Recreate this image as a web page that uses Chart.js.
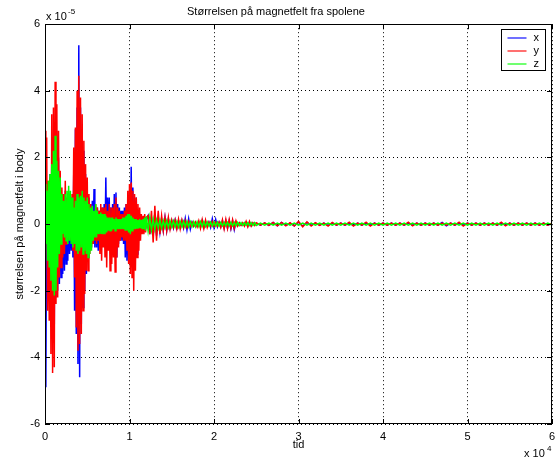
<!DOCTYPE html>
<html>
<head>
<meta charset="utf-8">
<script src="https://cdn.jsdelivr.net/npm/chart.js@4.4.0/dist/chart.umd.min.js"></script>
<style>
html, body { margin: 0; padding: 0; background: #fff; }
</style>
</head>
<body>
<canvas id="plot" width="556" height="462"></canvas>
<script>
// tid i enheter av 10^4, verdier i enheter av 10^-5
var tid = [
  0,0.01,0.02,0.03,0.04,0.05,0.06,0.07,0.08,0.09,
  0.1,0.11,0.12,0.13,0.14,0.15,0.16,0.17,0.18,0.19,
  0.2,0.21,0.22,0.23,0.24,0.25,0.26,0.27,0.28,0.29,
  0.3,0.31,0.32,0.33,0.34,0.35,0.36,0.37,0.38,0.39,
  0.4,0.41,0.42,0.43,0.44,0.45,0.46,0.47,0.48,0.49,
  0.5,0.51,0.52,0.53,0.54,0.55,0.56,0.57,0.58,0.59,
  0.6,0.61,0.62,0.63,0.64,0.65,0.66,0.67,0.68,0.69,
  0.7,0.71,0.72,0.73,0.74,0.75,0.76,0.77,0.78,0.79,
  0.8,0.81,0.82,0.83,0.84,0.85,0.86,0.87,0.88,0.89,
  0.9,0.91,0.92,0.93,0.94,0.95,0.96,0.97,0.98,0.99,
  1,1.01,1.02,1.03,1.04,1.05,1.06,1.07,1.08,1.09,
  1.1,1.11,1.12,1.13,1.14,1.15,1.16,1.17,1.18,1.19,
  1.2,
  1.22,1.24,1.26,1.28,1.3,1.32,1.34,1.36,1.38,1.4,
  1.42,1.44,1.46,1.48,1.5,1.52,1.54,1.56,1.58,1.6,
  1.62,1.64,1.66,1.68,1.7,1.72,1.74,1.76,1.78,1.8,
  1.82,1.84,1.86,1.88,1.9,1.92,1.94,1.96,1.98,2,
  2.02,2.04,2.06,2.08,2.1,2.12,2.14,2.16,2.18,2.2,
  2.22,2.24,2.26,2.28,2.3,2.32,2.34,2.36,2.38,2.4,
  2.42,2.44,2.46,2.48,2.5,
  2.55,2.6,2.65,2.7,2.75,2.8,2.85,2.9,2.95,3,
  3.05,3.1,3.15,3.2,3.25,3.3,3.35,3.4,3.45,3.5,
  3.55,3.6,3.65,3.7,3.75,3.8,3.85,3.9,3.95,4,
  4.05,4.1,4.15,4.2,4.25,4.3,4.35,4.4,4.45,4.5,
  4.55,4.6,4.65,4.7,4.75,4.8,4.85,4.9,4.95,5,
  5.05,5.1,5.15,5.2,5.25,5.3,5.35,5.4,5.45,5.5,
  5.55,5.6,5.65,5.7,5.75,5.8,5.85,5.9,5.95,6
];

var feltX = [
  0.3,-4.9,1.0,-1.8,1.2,-2.2,1.5,-2.5,2.0,-3.0,
  2.5,-3.0,2.5,-2.2,2.5,-2.0,2.0,-1.8,1.3,-1.6,
  0.9,-1.5,0.8,-1.4,1.0,-1.2,0.7,-1.1,0.8,-0.9,
  0.6,-0.8,0.8,-1.0,1.5,-2.6,2.85,-3.3,3.5,-4.2,
  5.37,-4.6,3.5,-3.0,2.6,-2.5,2.2,-2.0,1.5,-1.5,
  1.0,-1.0,0.8,-0.8,0.6,-0.7,0.7,-0.6,1.05,-0.7,
  0.5,-0.7,0.5,-0.8,0.4,-0.7,0.5,-0.6,0.5,-0.6,
  0.6,-0.6,1.4,-0.7,0.8,-0.6,0.8,-0.7,0.5,-0.6,
  0.6,-0.8,0.9,-0.9,0.95,-1.0,0.6,-0.6,0.5,-0.5,
  0.4,-0.5,0.4,-0.6,0.5,-1.0,0.6,-1.1,0.8,-1.15,
  1.0,-1.2,1.72,-1.0,1.1,-0.9,0.7,-0.5,0.8,-0.9,
  0.4,-0.5,0.2,-0.2,0.15,-0.15,0.15,-0.2,0.2,-0.15,
  0.15,
  0.25,-0.3,0.2,-0.35,0.3,-0.35,0.2,-0.25,0.15,-0.2,
  0.2,-0.2,0.15,-0.12,0.1,-0.12,0.12,-0.12,0.1,-0.1,
  0.1,-0.12,0.17,-0.17,0.16,-0.15,0.06,-0.06,0.05,-0.06,
  0.06,-0.08,0.1,-0.1,0.08,-0.06,0.06,-0.1,0.16,-0.1,
  0.14,-0.08,0.06,-0.08,0.1,-0.12,0.1,-0.12,0.1,-0.14,
  0.1,-0.17,0.06,-0.05,0.03,-0.03,0.03,-0.04,0.05,-0.06,
  0.06,-0.05,0.03,-0.03,0.03,
  -0.03,0.03,-0.04,0.05,-0.05,0.05,-0.04,0.03,-0.05,0.06,
  -0.06,0.05,-0.04,0.03,-0.03,0.03,-0.04,0.03,-0.03,0.03,
  -0.03,0.03,-0.04,0.03,-0.03,0.03,-0.03,0.03,-0.03,0.03,
  -0.03,0.03,-0.03,0.03,-0.03,0.03,-0.03,0.03,-0.03,0.03,
  -0.03,0.03,-0.03,0.05,-0.05,0.03,-0.03,0.03,-0.03,0.03,
  -0.03,0.03,-0.03,0.03,-0.03,0.03,-0.03,0.03,-0.03,0.03,
  -0.03,0.03,-0.03,0.03,-0.03,0.03,-0.03,0.03,-0.03,0.03
];

var feltY = [
  2.8,-0.6,2.6,-2.6,1.3,-2.9,1.4,-3.9,3.3,-4.47,
  3.5,-4.3,4.27,-2.4,3.6,-2.2,2.8,-1.6,1.6,-1.3,
  1.1,-1.0,0.9,-0.9,1.3,-0.6,0.8,-0.5,0.6,-0.4,
  0.5,-0.5,0.9,-0.8,2.3,-1.6,2.9,-3.1,4.0,-3.8,
  4.45,-3.6,3.8,-3.3,3.3,-2.6,2.5,-2.1,1.8,-1.4,
  1.4,-1.4,0.9,-0.9,0.6,-0.7,0.4,-0.6,0.3,-0.5,
  0.6,-0.6,0.5,-0.5,0.4,-0.9,0.6,-1.1,0.5,-0.7,
  0.5,-1.0,0.6,-1.3,0.4,-0.8,0.6,-1.4,0.5,-1.2,
  0.5,-1.0,0.6,-1.44,0.8,-1.0,0.5,-0.7,0.4,-0.5,
  0.3,-0.4,0.3,-0.5,0.4,-0.5,0.6,-0.8,1.0,-1.2,
  1.2,-1.5,1.25,-1.6,1.0,-2.0,0.9,-1.4,0.8,-1.0,
  0.6,-0.8,0.5,-0.5,0.3,-0.3,0.25,-0.3,0.3,-0.25,
  0.2,
  0.25,-0.3,0.4,-0.55,0.55,-0.5,0.4,-0.3,0.25,-0.2,
  0.2,-0.2,0.2,-0.15,0.12,-0.1,0.12,-0.14,0.15,-0.14,
  0.12,-0.1,0.1,-0.1,0.08,-0.06,0.06,-0.06,0.06,-0.08,
  0.1,-0.13,0.13,-0.13,0.12,-0.1,0.06,-0.06,0.08,-0.06,
  0.06,-0.06,0.06,-0.1,0.13,-0.14,0.14,-0.13,0.14,-0.12,
  0.13,-0.12,0.1,-0.06,0.04,-0.04,0.04,-0.06,0.08,-0.08,
  0.08,-0.06,0.04,-0.04,0.04,
  -0.03,0.04,-0.04,0.05,-0.05,0.05,-0.05,0.04,-0.06,0.08,
  -0.08,0.07,-0.06,0.04,-0.04,0.03,-0.06,0.05,-0.03,0.03,
  -0.03,0.06,-0.06,0.03,-0.03,0.06,-0.06,0.03,-0.03,0.03,
  -0.03,0.03,-0.03,0.03,-0.03,0.06,-0.05,0.03,-0.03,0.03,
  -0.03,0.03,-0.03,0.03,-0.03,0.03,-0.03,0.06,-0.06,0.03,
  -0.03,0.03,-0.03,0.03,-0.03,0.03,-0.03,0.06,-0.05,0.03,
  -0.03,0.03,-0.03,0.03,-0.03,0.03,-0.03,0.03,-0.03,0.03
];

var feltZ = [
  1.2,-0.6,1.0,-1.1,1.3,-1.3,1.5,-1.7,1.8,-2.0,
  2.2,-2.14,2.65,-2.0,1.9,-1.3,1.6,-0.9,1.4,-0.6,
  0.9,-0.3,0.7,-0.4,0.9,-0.5,1.0,-0.6,1.15,-0.5,
  1.0,-0.6,0.8,-0.7,0.5,-0.6,0.7,-0.8,0.9,-0.9,
  0.8,-0.8,0.85,-0.7,1.0,-0.9,0.8,-0.8,0.7,-0.9,
  0.8,-1.0,0.6,-0.9,0.5,-0.8,0.55,-0.5,0.4,-0.4,
  0.6,-0.4,0.4,-0.3,0.3,-0.3,0.35,-0.3,0.3,-0.3,
  0.3,-0.3,0.25,-0.25,0.2,-0.2,0.2,-0.2,0.2,-0.2,
  0.2,-0.15,0.15,-0.2,0.2,-0.15,0.15,-0.15,0.15,-0.15,
  0.15,-0.15,0.2,-0.15,0.2,-0.2,0.25,-0.2,0.3,-0.25,
  0.3,-0.3,0.25,-0.2,0.2,-0.15,0.15,-0.15,0.15,-0.12,
  0.12,-0.12,0.15,-0.12,0.12,-0.15,0.15,-0.15,0.2,-0.2,
  0.23,
  -0.2,0.2,-0.18,0.15,-0.15,0.12,-0.12,0.12,-0.12,0.1,
  -0.1,0.1,-0.1,0.09,-0.09,0.09,-0.09,0.08,-0.09,0.08,
  -0.08,0.08,-0.08,0.08,-0.08,0.07,-0.07,0.07,-0.08,0.07,
  -0.07,0.07,-0.07,0.07,-0.07,0.06,-0.06,0.06,-0.06,0.06,
  -0.06,0.06,-0.06,0.05,-0.05,0.05,-0.05,0.05,-0.05,0.05,
  -0.05,0.05,-0.05,0.05,-0.04,0.04,-0.04,0.04,-0.04,0.04,
  -0.04,0.04,-0.04,0.04,-0.04,
  0.03,-0.03,0.03,-0.03,0.03,-0.03,0.03,-0.03,0.03,-0.03,
  0.03,-0.03,0.03,-0.03,0.03,-0.03,0.03,-0.03,0.03,-0.03,
  0.03,-0.03,0.03,-0.03,0.03,-0.03,0.03,-0.03,0.03,-0.03,
  0.03,-0.03,0.03,-0.03,0.03,-0.03,0.03,-0.03,0.03,-0.03,
  0.03,-0.03,0.03,-0.03,0.03,-0.03,0.03,-0.03,0.03,-0.03,
  0.03,-0.03,0.03,-0.03,0.03,-0.03,0.03,-0.03,0.03,-0.03,
  0.03,-0.03,0.03,-0.03,0.03,-0.03,0.03,-0.03,0.03,-0.03
];

var seriesNavn = ['x', 'y', 'z'];
var seriesFarge = ['#0000ff', '#ff0000', '#00ff00'];
var xTicks = [0, 1, 2, 3, 4, 5, 6];
var yTicks = [-6, -4, -2, 0, 2, 4, 6];

var skrift = 'Liberation Sans, Arial, sans-serif';

function punkter(verdier) {
  return tid.map(function(t, i) { return { x: t, y: verdier[i] }; });
}

function serie(i, verdier) {
  return {
    label: seriesNavn[i],
    data: punkter(verdier),
    borderColor: seriesFarge[i],
    backgroundColor: seriesFarge[i],
    borderWidth: 1.5,
    pointRadius: 0,
    tension: 0,
    order: 3 - i   // z oppå y oppå x, som i originalen
  };
}

// ramme, innvendige tick-streker, eksponenter og legende (MATLAB-stil)
var matlabRamme = {
  id: 'matlabRamme',
  afterDraw: function(chart) {
    var ctx = chart.ctx;
    var a = chart.chartArea;
    var sx = chart.scales.x, sy = chart.scales.y;
    ctx.save();
    ctx.strokeStyle = '#000';
    ctx.lineWidth = 1;
    ctx.strokeRect(Math.round(a.left) + 0.5, Math.round(a.top) + 0.5,
      Math.round(a.right - a.left) - 1, Math.round(a.bottom - a.top) - 1);

    ctx.beginPath();
    xTicks.forEach(function(v) {
      var px = Math.round(sx.getPixelForValue(v)) + 0.5;
      ctx.moveTo(px, a.bottom); ctx.lineTo(px, a.bottom - 5);
      ctx.moveTo(px, a.top); ctx.lineTo(px, a.top + 5);
    });
    yTicks.forEach(function(v) {
      var py = Math.round(sy.getPixelForValue(v)) + 0.5;
      ctx.moveTo(a.left, py); ctx.lineTo(a.left + 5, py);
      ctx.moveTo(a.right, py); ctx.lineTo(a.right - 5, py);
    });
    ctx.stroke();

    // eksponenter
    ctx.fillStyle = '#000';
    ctx.textBaseline = 'alphabetic';
    ctx.textAlign = 'left';
    ctx.font = '11px ' + skrift;
    ctx.fillText('x 10', a.left + 1, a.top - 4);
    ctx.font = '8px ' + skrift;
    ctx.fillText('-5', a.left + 23, a.top - 10);
    ctx.font = '11px ' + skrift;
    ctx.fillText('x 10', a.right - 28, a.bottom + 33);
    ctx.font = '8px ' + skrift;
    ctx.fillText('4', a.right - 5, a.bottom + 27);

    // legende
    var bx = Math.round(a.right) - 50.5, by = Math.round(a.top) + 5.5;
    ctx.fillStyle = '#fff';
    ctx.fillRect(bx, by, 44, 41);
    ctx.strokeStyle = '#000';
    ctx.lineWidth = 1;
    ctx.strokeRect(bx, by, 44, 41);
    ctx.font = '11px ' + skrift;
    ctx.textBaseline = 'middle';
    seriesNavn.forEach(function(navn, i) {
      var ry = Math.round(by + 8 + i * 13);
      ctx.strokeStyle = seriesFarge[i];
      ctx.globalAlpha = 0.75;
      ctx.lineWidth = 1.5;
      ctx.beginPath();
      ctx.moveTo(bx + 6, ry); ctx.lineTo(bx + 25, ry);
      ctx.stroke();
      ctx.globalAlpha = 1;
      ctx.fillStyle = '#000';
      ctx.fillText(navn, bx + 32, ry);
    });
    ctx.restore();
  }
};

new Chart(document.getElementById('plot'), {
  type: 'line',
  data: {
    datasets: [
      serie(0, feltX),
      serie(1, feltY),
      serie(2, feltZ)
    ]
  },
  options: {
    responsive: false,
    animation: false,
    devicePixelRatio: 1,
    layout: { padding: { left: 0, right: 4, top: 0, bottom: 0 } },
    plugins: {
      legend: { display: false },
      tooltip: { enabled: false },
      title: {
        display: true,
        text: 'Størrelsen på magnetfelt fra spolene',
        color: '#000',
        font: { family: skrift, size: 11, weight: 'normal' },
        padding: { top: 5, bottom: 6 }
      }
    },
    scales: {
      x: {
        type: 'linear',
        min: 0,
        max: 6,
        afterBuildTicks: function(s) { s.ticks = xTicks.map(function(v) { return { value: v }; }); },
        afterFit: function(s) { s.height = 38; s.paddingLeft = 0; s.paddingRight = 0; },
        ticks: { color: '#000', font: { family: skrift, size: 11 }, padding: 6, maxRotation: 0 },
        grid: { color: '#000', lineWidth: 1, drawTicks: false },
        border: { display: false, dash: [1, 3] },
        title: { display: true, text: 'tid', color: '#000', font: { family: skrift, size: 11 }, padding: { top: 0, bottom: 10 } }
      },
      y: {
        type: 'linear',
        min: -6,
        max: 6,
        afterBuildTicks: function(s) { s.ticks = yTicks.map(function(v) { return { value: v }; }); },
        afterFit: function(s) { s.width = 45; s.paddingTop = 0; s.paddingBottom = 0; },
        ticks: { color: '#000', font: { family: skrift, size: 11 }, padding: 5 },
        grid: { color: '#000', lineWidth: 1, drawTicks: false },
        border: { display: false, dash: [1, 3] },
        title: { display: true, text: 'størrelsen på magnetfelt i body', color: '#000', font: { family: skrift, size: 11 }, padding: { top: 13, bottom: 0 } }
      }
    }
  },
  plugins: [matlabRamme]
});
</script>
</body>
</html>
